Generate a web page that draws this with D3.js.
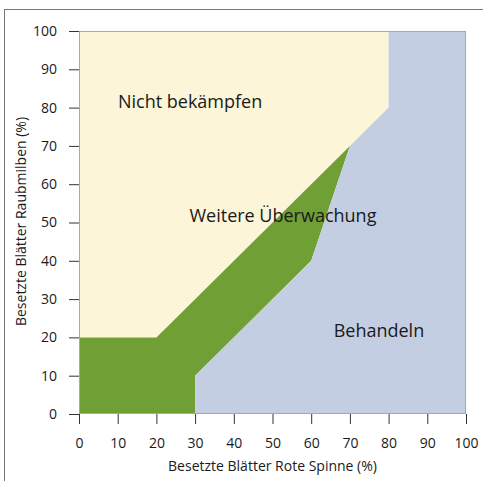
<!DOCTYPE html>
<html>
<head>
<meta charset="utf-8">
<script src="https://cdn.jsdelivr.net/npm/d3@7"></script>
<style>
  body { margin: 0; background: #fff; }
  text { font-family: "Open Sans", "Noto Sans", sans-serif; fill: #1a1a1a; }
  .tick text { font-size: 14px; }
  .tick line { stroke: #333; }
</style>
</head>
<body>
<svg id="chart" width="483" height="481"></svg>
<script>
const xTicks = [0, 10, 20, 30, 40, 50, 60, 70, 80, 90, 100];
const yTicks = [0, 10, 20, 30, 40, 50, 60, 70, 80, 90, 100];

// zone boundaries: [Rote Spinne %, Raubmilben %]
const zoneNicht = [[0, 20], [20, 20], [70, 70], [80, 80], [80, 100], [0, 100]];
const zoneWeitere = [[0, 0], [30, 0], [30, 10], [60, 40], [70, 70], [20, 20], [0, 20]];
const zoneBehandeln = [[30, 0], [100, 0], [100, 100], [80, 100], [80, 80], [70, 70], [60, 40], [30, 10]];

const zoneNames = ["Nicht bekämpfen", "Weitere Überwachung", "Behandeln"];
const zoneLabelPos = [[28.7, 79.9], [52.7, 50.1], [77.5, 20.1]];
const zoneColors = ["#fcf5d8", "#6f9f35", "#c3cee2"];

const xTitle = "Besetzte Blätter Rote Spinne (%)";
const yTitle = "Besetzte Blätter Raubmilben (%)";

const margin = {top: 31, left: 79};
const width = 387, height = 383;

const svg = d3.select("#chart");

// outer frame
svg.append("rect")
   .attr("x", 4.5).attr("y", 9.5)
   .attr("width", 500).attr("height", 500)
   .attr("fill", "none").attr("stroke", "#777");

const chart = svg.append("g")
   .attr("transform", "translate(" + margin.left + "," + margin.top + ")");

const x = d3.scaleLinear().domain([0, 100]).range([0, width]);
const y = d3.scaleLinear().domain([0, 100]).range([height, 0]);

const line = d3.line().x(d => x(d[0])).y(d => y(d[1]));

[zoneNicht, zoneWeitere, zoneBehandeln].forEach((z, i) => {
  chart.append("path")
       .attr("d", line(z) + "Z")
       .attr("fill", zoneColors[i]);
});

// plot border
chart.append("rect")
     .attr("x", 0.5).attr("y", 0.5)
     .attr("width", width - 1).attr("height", height - 1)
     .attr("fill", "none").attr("stroke", "#a8a8a8");

zoneNames.forEach((n, i) => {
  chart.append("text")
       .attr("x", x(zoneLabelPos[i][0]))
       .attr("y", y(zoneLabelPos[i][1]))
       .attr("text-anchor", "middle")
       .style("font-size", "18px")
       .text(n);
});

const xAxis = chart.append("g")
   .attr("transform", "translate(0," + height + ")")
   .call(d3.axisBottom(x).tickValues(xTicks).tickSize(10).tickPadding(14));
xAxis.select(".domain").remove();

const yAxis = chart.append("g")
   .call(d3.axisLeft(y).tickValues(yTicks).tickSize(10).tickPadding(12));
yAxis.select(".domain").remove();

chart.append("text")
     .attr("x", width / 2)
     .attr("y", height + 57)
     .attr("text-anchor", "middle")
     .style("font-size", "14px")
     .text(xTitle);

chart.append("text")
     .attr("transform", "rotate(-90)")
     .attr("x", -height / 2 + 1)
     .attr("y", -53)
     .attr("text-anchor", "middle")
     .style("font-size", "14px")
     .text(yTitle);
</script>
</body>
</html>
